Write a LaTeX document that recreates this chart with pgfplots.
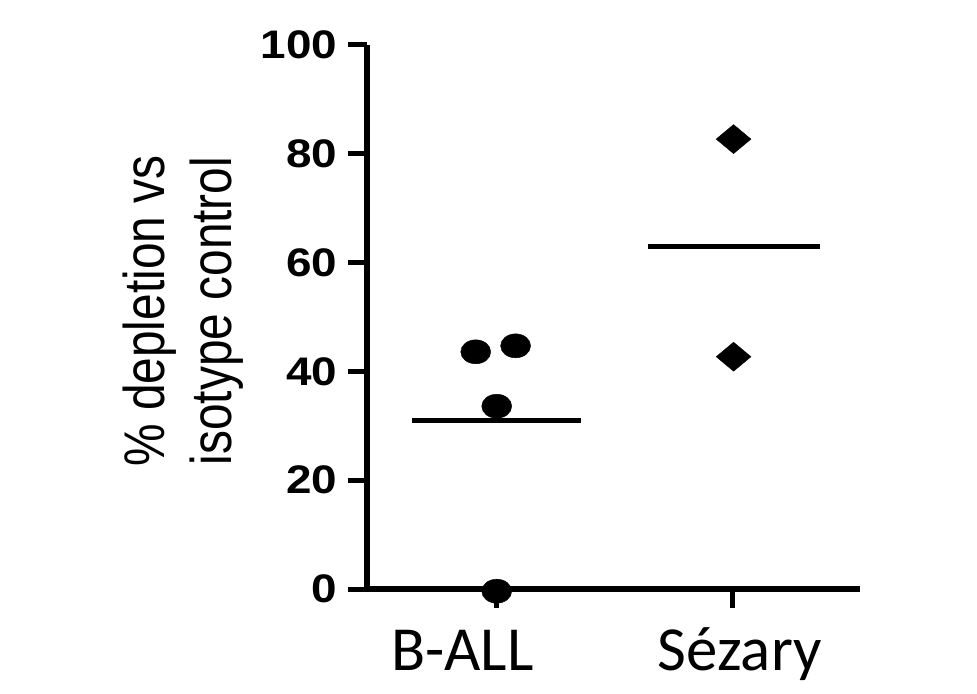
\documentclass[border=0pt]{standalone}
\usepackage{fontspec}
\setmainfont{Liberation Sans}
\newfontfamily\calibri{Carlito}
\usepackage{pgfplots}
\pgfplotsset{compat=1.18}
\begin{document}
\begin{tikzpicture}
\useasboundingbox (-367bp,-105bp) rectangle (610bp,589bp);
\begin{axis}[
  at={(0,0)}, anchor=south west,
  scale only axis, width=493bp, height=544bp,
  xmin=-0.55, xmax=1.54, ymin=0, ymax=100,
  clip=false,
  /pgf/number format/assume math mode=true,
  axis x line=bottom, axis y line=left,
  axis line style={-, line width=5.5bp, black},
  tick align=outside,
  major tick length=19bp,
  tick style={line width=5bp, black},
  ytick={0,20,40,60,80,100},
  xtick={0,1},
  xticklabels={,,},
  yticklabel style={font=\fontsize{40}{40}\selectfont\bfseries, xscale=1.15, anchor=east, inner sep=0pt, xshift=-9bp},
  extra x ticks={-0.146,1.03},
  extra x tick labels={B-ALL,Sézary},
  extra x tick style={major tick length=0pt, tick style={draw=none}, xticklabel style={anchor=base, inner sep=0pt, yshift=-81bp, xshift=0pt, font=\calibri\fontsize{63}{63}\selectfont}},
  ylabel={\% depletion vs\\isotype control},
  ylabel style={at={(axis description cs:-0.373,0.511)}, anchor=center, align=center, font=\fontsize{48}{56}\selectfont, yscale=1.2},
]
% means
\addplot[black, line width=5bp, no marks] coordinates {(-0.36,30.9) (0.356,30.9)};
\addplot[black, line width=5bp, no marks] coordinates {(0.64,62.9) (1.369,62.9)};
% B-ALL
\addplot[only marks, mark=*, mark size=12bp, black, mark options={xscale=1.25, fill=black}] coordinates {
(-0.089,43.6) (0.08,44.7) (0,33.6) (0,-0.4)};
% Sezary
\addplot[only marks, mark=diamond*, mark size=14.5bp, black, mark options={xscale=1.6, fill=black}] coordinates {
(1.004,82.7) (1.004,42.7)};
\end{axis}
\end{tikzpicture}
\end{document}
